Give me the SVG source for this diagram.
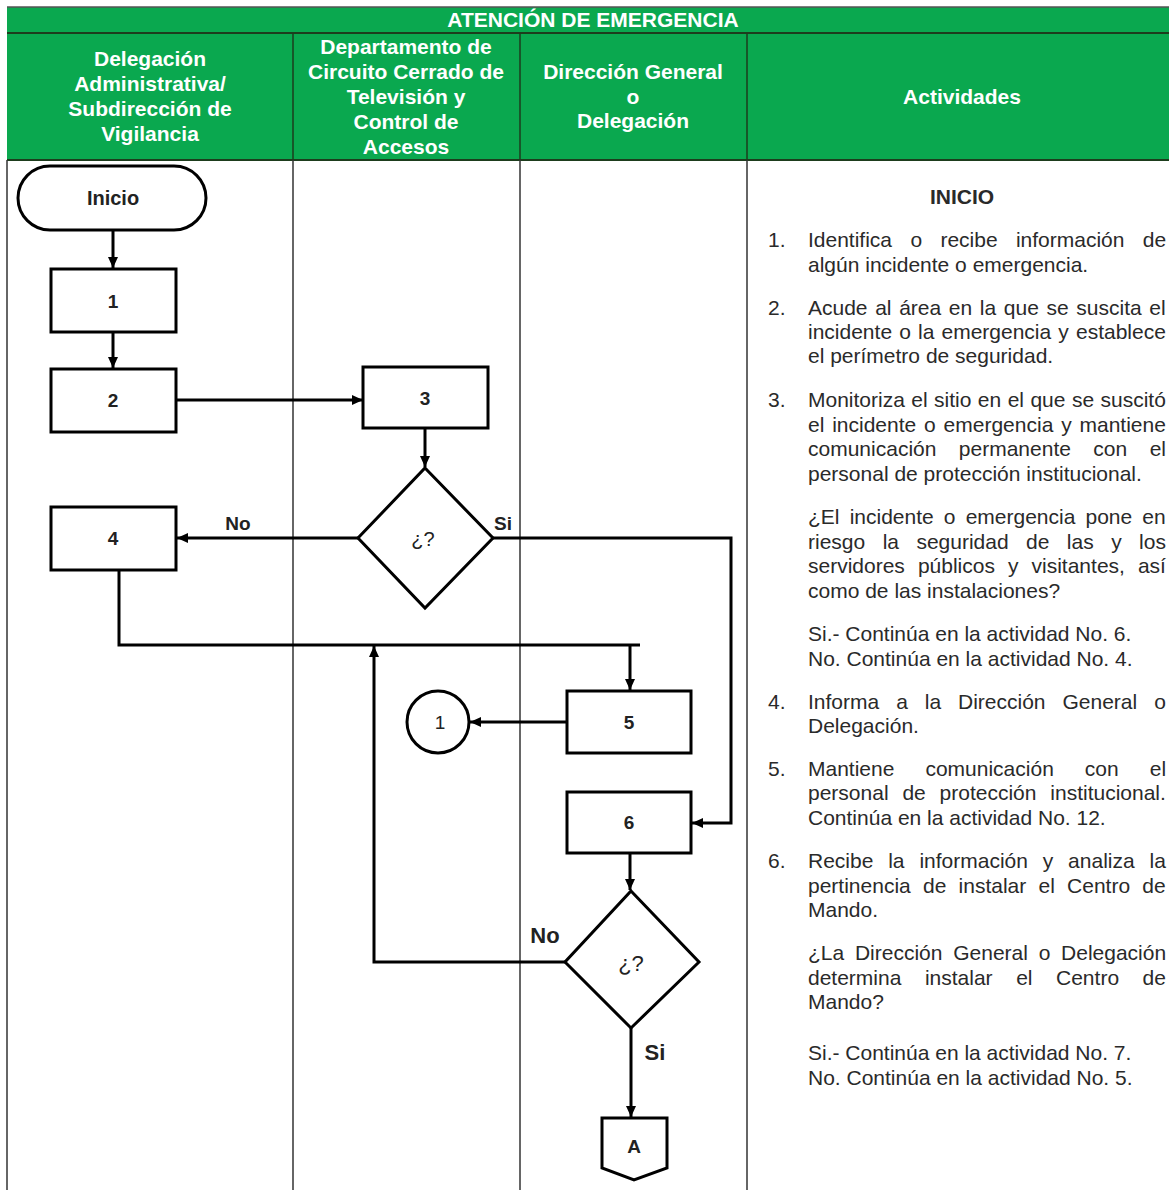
<svg xmlns="http://www.w3.org/2000/svg" width="1169" height="1190" viewBox="0 0 1169 1190">
<style>
.hd{font-family:"Liberation Sans",Arial,sans-serif;font-weight:bold;font-size:21px;fill:#ffffff;text-anchor:middle}
.lane{stroke:#333;stroke-width:1.5;fill:none}
.nd{fill:#fff;stroke:#000;stroke-width:3}
.lb{font-family:"Liberation Sans",Arial,sans-serif;font-weight:bold;font-size:19px;fill:#222;text-anchor:middle}
.lbn{font-family:"Liberation Sans",Arial,sans-serif;font-size:20px;fill:#222;text-anchor:middle}
.cn{fill:none;stroke:#000;stroke-width:3}
.tx{font-family:"Liberation Sans",Arial,sans-serif;font-size:21px;fill:#2a2a2a}
.num{font-family:"Liberation Sans",Arial,sans-serif;font-size:21px;fill:#2a2a2a}
</style>
<defs>
<marker id="ah" markerUnits="userSpaceOnUse" markerWidth="12" markerHeight="12" refX="11" refY="6" orient="auto">
<path d="M0,1 L11,6 L0,11 z" fill="#000"/>
</marker>
</defs>
<rect x="0" y="0" width="1169" height="1190" fill="#fff"/>
<g id="header">
<rect x="7" y="7" width="1162" height="153" fill="#0aa84f"/>
<line x1="7" y1="7" x2="1169" y2="7" stroke="#555" stroke-width="1.5"/>
<line x1="7" y1="33" x2="1169" y2="33" stroke="#1d3d1d" stroke-width="2"/>
<line x1="7" y1="160" x2="1169" y2="160" stroke="#1d3d1d" stroke-width="2"/>
<line x1="293" y1="33" x2="293" y2="160" stroke="#1d3d1d" stroke-width="1.5"/>
<line x1="520" y1="33" x2="520" y2="160" stroke="#1d3d1d" stroke-width="1.5"/>
<line x1="747" y1="33" x2="747" y2="160" stroke="#1d3d1d" stroke-width="1.5"/>
<text class="hd" x="593" y="27">ATENCIÓN DE EMERGENCIA</text>
<text class="hd" x="150" y="66">Delegación</text>
<text class="hd" x="150" y="91">Administrativa/</text>
<text class="hd" x="150" y="116">Subdirección de</text>
<text class="hd" x="150" y="141">Vigilancia</text>
<text class="hd" x="406" y="54">Departamento de</text>
<text class="hd" x="406" y="79">Circuito Cerrado de</text>
<text class="hd" x="406" y="104">Televisión y</text>
<text class="hd" x="406" y="129">Control de</text>
<text class="hd" x="406" y="154">Accesos</text>
<text class="hd" x="633" y="79">Dirección General</text>
<text class="hd" x="633" y="104">o</text>
<text class="hd" x="633" y="128">Delegación</text>
<text class="hd" x="962" y="104">Actividades</text>
</g>
<g id="lanes">
<line class="lane" x1="7" y1="160" x2="7" y2="1190"/>
<line class="lane" x1="293" y1="160" x2="293" y2="1190"/>
<line class="lane" x1="520" y1="160" x2="520" y2="1190"/>
<line class="lane" x1="747" y1="160" x2="747" y2="1190"/>
</g>
<g id="connectors">
<path class="cn" d="M113,230 V268" marker-end="url(#ah)"/>
<path class="cn" d="M113,332 V368" marker-end="url(#ah)"/>
<path class="cn" d="M176,400 H363" marker-end="url(#ah)"/>
<path class="cn" d="M425,428 V467" marker-end="url(#ah)"/>
<path class="cn" d="M358,538 H177" marker-end="url(#ah)"/>
<path class="cn" d="M493,538 H731 V823 H692" marker-end="url(#ah)"/>
<path class="cn" d="M119,570 V645 H640"/>
<path class="cn" d="M630,645 V690" marker-end="url(#ah)"/>
<path class="cn" d="M567,722 H470" marker-end="url(#ah)"/>
<path class="cn" d="M565,962 H374 V646" marker-end="url(#ah)"/>
<path class="cn" d="M630,853 V890" marker-end="url(#ah)"/>
<path class="cn" d="M631,1028 V1117" marker-end="url(#ah)"/>
<text class="lb" x="238" y="530">No</text>
<text class="lb" x="503" y="530">Si</text>
<text class="lb" x="545" y="943" style="font-size:22px">No</text>
<text class="lb" x="655" y="1060" style="font-size:22px">Si</text>
</g>
<g id="n-inicio">
<rect class="nd" x="18" y="166" width="188" height="64" rx="32"/>
<text class="lb" x="113" y="205" style="font-size:20px">Inicio</text>
</g>
<g id="n-1">
<rect class="nd" x="51" y="269" width="125" height="63"/>
<text class="lb" x="113" y="308">1</text>
</g>
<g id="n-2">
<rect class="nd" x="51" y="369" width="125" height="63"/>
<text class="lb" x="113" y="407">2</text>
</g>
<g id="n-3">
<rect class="nd" x="363" y="367" width="125" height="61"/>
<text class="lb" x="425" y="405">3</text>
</g>
<g id="n-d1">
<polygon class="nd" points="425,468 493,538 425,608 358,538"/>
<text class="lbn" x="423" y="546">¿?</text>
</g>
<g id="n-4">
<rect class="nd" x="51" y="507" width="125" height="63"/>
<text class="lb" x="113" y="545">4</text>
</g>
<g id="n-5">
<rect class="nd" x="567" y="691" width="124" height="62"/>
<text class="lb" x="629" y="729">5</text>
</g>
<g id="n-c1">
<circle class="nd" cx="438" cy="722" r="31"/>
<text class="lbn" x="440" y="729" style="font-size:19px">1</text>
</g>
<g id="n-6">
<rect class="nd" x="567" y="792" width="124" height="61"/>
<text class="lb" x="629" y="829">6</text>
</g>
<g id="n-d2">
<polygon class="nd" points="631,891 699,962 631,1028 565,962"/>
<text class="lbn" x="631" y="971" style="font-size:22px">¿?</text>
</g>
<g id="n-a">
<polygon class="nd" points="602,1118 667,1118 667,1168 634,1180 602,1168"/>
<text class="lb" x="634" y="1153">A</text>
</g>
<g id="activities">
<text class="tx" x="962" y="204" text-anchor="middle" font-weight="bold">INICIO</text>
<text class="num" x="768" y="247">1.</text>
<text class="tx" x="808" y="247" word-spacing="12.5">Identifica o recibe información de</text>
<text class="tx" x="808" y="272">algún incidente o emergencia.</text>
<text class="num" x="768" y="315">2.</text>
<text class="tx" x="808" y="315" word-spacing="1.8">Acude al área en la que se suscita el</text>
<text class="tx" x="808" y="339" word-spacing="1.3">incidente o la emergencia y establece</text>
<text class="tx" x="808" y="363">el perímetro de seguridad.</text>
<text class="num" x="768" y="407">3.</text>
<text class="tx" x="808" y="407" word-spacing="0.6">Monitoriza el sitio en el que se suscitó</text>
<text class="tx" x="808" y="432" word-spacing="2">el incidente o emergencia y mantiene</text>
<text class="tx" x="808" y="456" word-spacing="16.6">comunicación permanente con el</text>
<text class="tx" x="808" y="481">personal de protección institucional.</text>
<text class="tx" x="808" y="524" word-spacing="4.3">¿El incidente o emergencia pone en</text>
<text class="tx" x="808" y="549" word-spacing="11.6">riesgo la seguridad de las y los</text>
<text class="tx" x="808" y="573" word-spacing="7.2">servidores públicos y visitantes, así</text>
<text class="tx" x="808" y="598">como de las instalaciones?</text>
<text class="tx" x="808" y="641">Si.- Continúa en la actividad No. 6.</text>
<text class="tx" x="808" y="666">No. Continúa en la actividad No. 4.</text>
<text class="num" x="768" y="709">4.</text>
<text class="tx" x="808" y="709" word-spacing="11.1">Informa a la Dirección General o</text>
<text class="tx" x="808" y="733">Delegación.</text>
<text class="num" x="768" y="776">5.</text>
<text class="tx" x="808" y="776" word-spacing="25.2">Mantiene comunicación con el</text>
<text class="tx" x="808" y="800" word-spacing="8">personal de protección institucional.</text>
<text class="tx" x="808" y="825">Continúa en la actividad No. 12.</text>
<text class="num" x="768" y="868">6.</text>
<text class="tx" x="808" y="868" word-spacing="9">Recibe la información y analiza la</text>
<text class="tx" x="808" y="893" word-spacing="6.4">pertinencia de instalar el Centro de</text>
<text class="tx" x="808" y="917">Mando.</text>
<text class="tx" x="808" y="960" word-spacing="4.9">¿La Dirección General o Delegación</text>
<text class="tx" x="808" y="985" word-spacing="17.7">determina instalar el Centro de</text>
<text class="tx" x="808" y="1009">Mando?</text>
<text class="tx" x="808" y="1060">Si.- Continúa en la actividad No. 7.</text>
<text class="tx" x="808" y="1085">No. Continúa en la actividad No. 5.</text>
</g>
</svg>
